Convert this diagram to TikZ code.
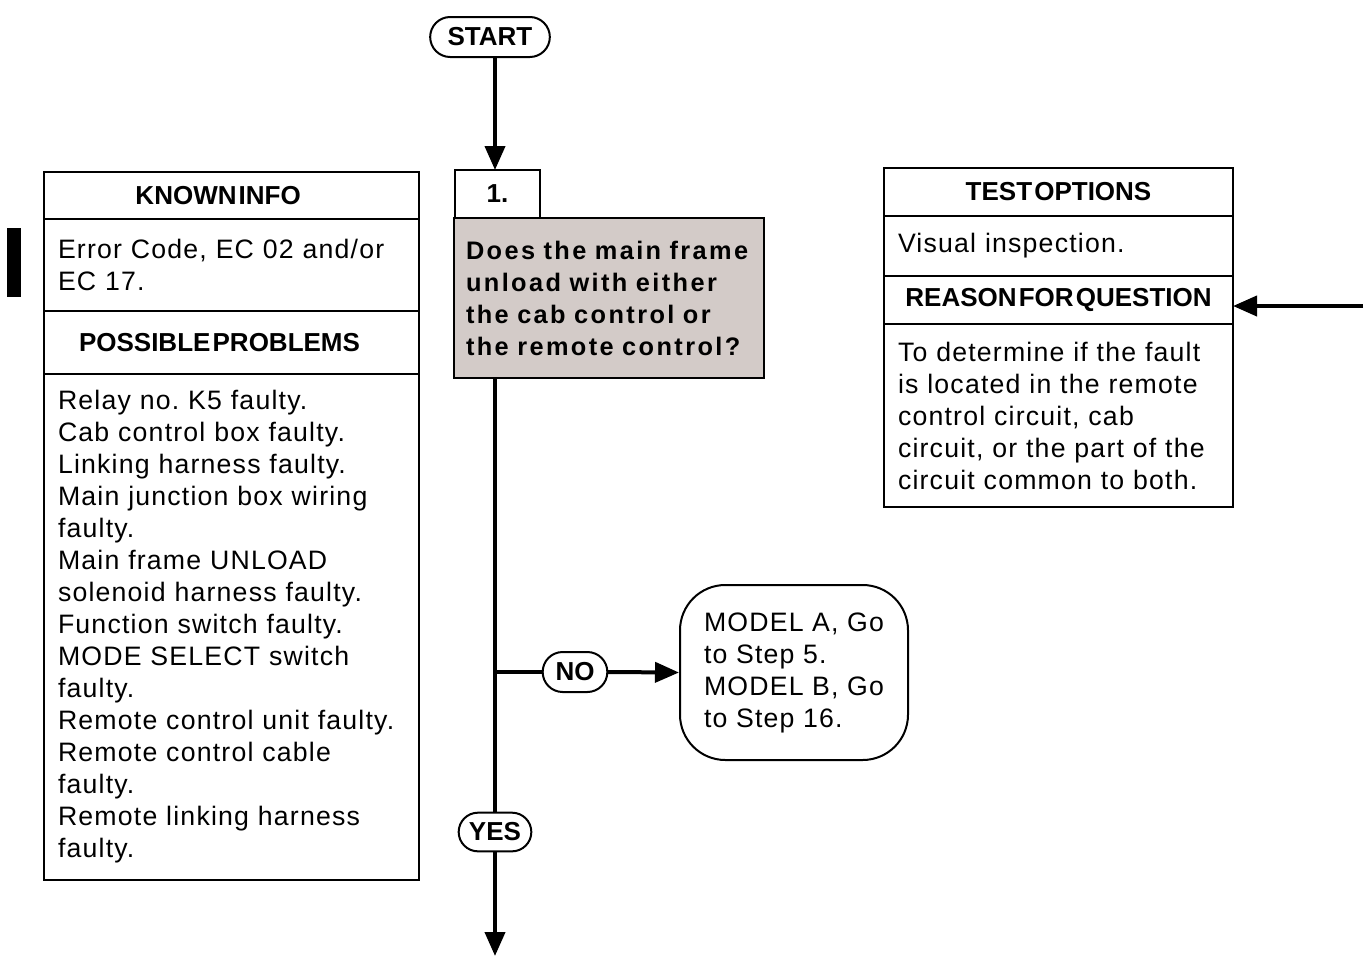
\documentclass[tikz,border=0pt]{standalone}
\usepackage{fontspec}
\setmainfont{Liberation Sans}
\newfontfamily\bodyf[LetterSpace=4.5]{Liberation Sans}
\newfontfamily\qf[LetterSpace=9.5]{Liberation Sans}
\newfontfamily\hf[WordSpace=0.3]{Liberation Sans}
\usetikzlibrary{arrows.meta,shapes.misc}
\definecolor{qgray}{RGB}{211,203,200}
\tikzset{
  box/.style={draw, line width=1.5pt, inner sep=0pt, outer sep=0pt},
  bodytxt/.style={font={\bodyf\frenchspacing\fontsize{20}{24}\selectfont}, align=left},
  hdr/.style={box, font={\hf\bfseries\fontsize{19.5}{20}\selectfont}},
  pill/.style={draw, line width=1.5pt, rounded rectangle, inner xsep=2pt, inner ysep=0pt, outer sep=0pt, font={\bfseries\fontsize{19.5}{20}\selectfont}},
  conn/.style={line width=3pt},
  arr/.style={conn, -{Triangle[length=18pt,width=15pt]}}
}
\begin{document}
\begin{tikzpicture}[x=0.75pt,y=-0.75pt]
\useasboundingbox (0,0) rectangle (1366,968);
\coordinate (spine) at (495,0);

% start
\node[pill, minimum width=93.75pt, minimum height=30pt] (start) at (490,37) {START};

% step
\node[box, anchor=south west, minimum width=63.75pt, minimum height=36pt, font={\bfseries\fontsize{19.5}{20}\selectfont}] (n1) at (455,218) {1.};
\node[box, fill=qgray, anchor=north west, text width=214.5pt, inner xsep=9pt, minimum height=120pt, align=left, font={\qf\bfseries\fontsize{19}{24}\selectfont}] (q) at (454,218)
 {Does the main frame\\unload with either\\the cab control or\\the remote control?};

% left column
\node[hdr, anchor=north west, minimum width=281.25pt, minimum height=35.25pt] (kh) at (44,172) {\hspace*{-20pt}KNOWN INFO};
\node[box, bodytxt, anchor=north west, text width=260.25pt, inner xsep=10.5pt, minimum height=69pt] (kb) at (kh.south west)
 {Error Code, EC 02 and/or\\EC 17.};
\node[hdr, anchor=north west, minimum width=281.25pt, minimum height=47.25pt] (ph) at (kb.south west) {\hspace*{-18pt}POSSIBLE PROBLEMS};
\node[box, bodytxt, anchor=north west, text width=260.25pt, inner xsep=10.5pt, minimum height=379.5pt] (pb) at (ph.south west)
 {Relay no. K5 faulty.\\Cab control box faulty.\\Linking harness faulty.\\Main junction box wiring\\faulty.\\Main frame UNLOAD\\solenoid harness faulty.\\Function switch faulty.\\MODE SELECT switch\\faulty.\\Remote control unit faulty.\\Remote control cable\\faulty.\\Remote linking harness\\faulty.};

% change bar
\fill (7,228) rectangle (21,297);

% right column
\node[hdr, anchor=north west, minimum width=261.75pt, minimum height=36pt] (th) at (884,168) {TEST OPTIONS};
\node[box, bodytxt, anchor=north west, text width=240.75pt, inner xsep=10.5pt, minimum height=45pt] (tb) at (th.south west) {Visual inspection.};
\node[hdr, anchor=north west, minimum width=261.75pt, minimum height=36pt] (rh) at (tb.south west) {REASON FOR QUESTION};
\node[box, bodytxt, anchor=north west, text width=240.75pt, inner xsep=10.5pt, minimum height=137.25pt] (rb) at (rh.south west)
 {To determine if the fault\\is located in the remote\\control circuit, cab\\circuit, or the part of the\\circuit common to both.};

% branches
\node[pill, minimum width=52.5pt, minimum height=30pt] (no) at (575,672) {NO};
\node[pill, minimum width=58.5pt, minimum height=29pt] (yes) at (495,832) {YES};
\node[draw, line width=1.5pt, rounded corners=34pt, bodytxt, inner xsep=0pt, inner ysep=0pt, minimum width=171pt, minimum height=131.25pt] (model) at (794,672.5)
 {MODEL A, Go\\to Step 5.\\MODEL B, Go\\to Step 16.};

\coordinate (br) at (495,672);
\coordinate (endpt) at (495,956);
\coordinate (rin) at (1363,306);

\draw[arr] (start.south -| spine) -- (n1.north -| spine);
\draw[conn] (q.south -| spine) -- (yes.north);
\draw[arr] (yes.south) -- (endpt);
\draw[conn] (br) -- (no.west);
\draw[arr] (no.east) -- (model.west);
\draw[arr] (rin) -- (rin -| rh.east);
\end{tikzpicture}
\end{document}
